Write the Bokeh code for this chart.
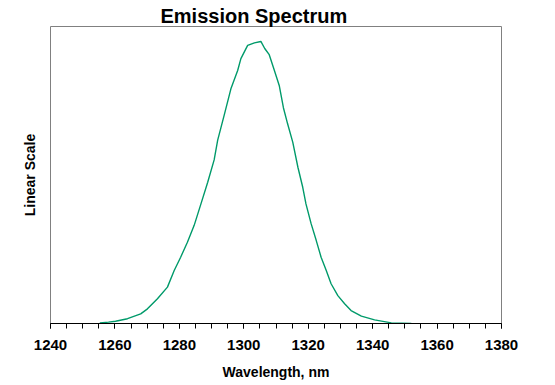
from bokeh.plotting import figure
from bokeh.models import FixedTicker, Range1d
from bokeh.embed import file_html
from bokeh.resources import INLINE

# Data
wavelength = [1255.3, 1258.0, 1260.2, 1263.9, 1268.0, 1270.1, 1273.2, 1276.3, 1278.4,
              1280.4, 1282.5, 1284.6, 1286.7, 1288.8, 1290.8, 1291.9, 1293.9, 1296.0,
              1298.1, 1299.1, 1301.2, 1303.3, 1305.3, 1306.5, 1307.9, 1309.5, 1311.0,
              1312.3, 1313.6, 1315.2, 1316.8, 1318.3, 1319.3, 1320.9, 1322.5, 1324.0,
              1325.6, 1327.1, 1329.2, 1331.3, 1333.3, 1336.5, 1340.6, 1345.8, 1352.0]
intensity = [0.002, 0.005, 0.008, 0.017, 0.034, 0.052, 0.088, 0.129, 0.188,
             0.235, 0.288, 0.348, 0.424, 0.501, 0.580, 0.650, 0.738, 0.832,
             0.897, 0.939, 0.986, 0.995, 1.000, 0.975, 0.953, 0.897, 0.844,
             0.765, 0.708, 0.643, 0.554, 0.483, 0.424, 0.354, 0.294, 0.235,
             0.188, 0.141, 0.099, 0.070, 0.046, 0.026, 0.013, 0.002, 0.000]
major_ticks = [1240, 1260, 1280, 1300, 1320, 1340, 1360, 1380]
minor_ticks = list(range(1240, 1381, 5))

title_text = "Emission Spectrum"
x_label = "Wavelength, nm"
y_label = "Linear Scale"

FONT = "Liberation Sans"

p = figure(width=540, height=384, output_backend="svg", toolbar_location=None,
           x_range=Range1d(1240, 1380), y_range=Range1d(0, 1.053),
           min_border_left=50, min_border_right=39, min_border_top=26,
           min_border_bottom=61, title=title_text)
p.background_fill_color = "white"
p.border_fill_color = "white"
p.outline_line_color = "#808080"
p.outline_line_width = 1
p.grid.visible = False

p.title.text_font = FONT
p.title.text_font_style = "bold"
p.title.text_font_size = "20px"
p.title.text_color = "black"
p.title.align = "left"
p.title.offset = 110
p.title.standoff = 0

p.line(wavelength, intensity, line_color="#009a6a", line_width=1.4)

xa = p.xaxis[0]
xa.ticker = FixedTicker(ticks=major_ticks, minor_ticks=minor_ticks)
xa.axis_line_color = "black"
xa.axis_line_width = 1
xa.major_tick_line_color = "black"
xa.minor_tick_line_color = "black"
xa.major_tick_in = 0
xa.major_tick_out = 5
xa.minor_tick_in = 0
xa.minor_tick_out = 5
xa.major_label_text_font = FONT
xa.major_label_text_font_style = "bold"
xa.major_label_text_font_size = "15px"
xa.major_label_text_color = "black"
xa.major_label_standoff = 11
xa.axis_label = x_label
xa.axis_label_text_font = FONT
xa.axis_label_text_font_style = "bold"
xa.axis_label_text_font_size = "14px"
xa.axis_label_text_color = "black"
xa.axis_label_standoff = 11

ya = p.yaxis[0]
ya.ticker = FixedTicker(ticks=[])
ya.axis_line_color = None
ya.major_tick_line_color = None
ya.minor_tick_line_color = None
ya.major_label_text_font_size = "0px"
ya.axis_label = y_label
ya.axis_label_text_font = FONT
ya.axis_label_text_font_style = "bold"
ya.axis_label_text_font_size = "14px"
ya.axis_label_text_color = "black"
ya.axis_label_standoff = 13

open("out.html", "w").write(file_html(p, INLINE))
